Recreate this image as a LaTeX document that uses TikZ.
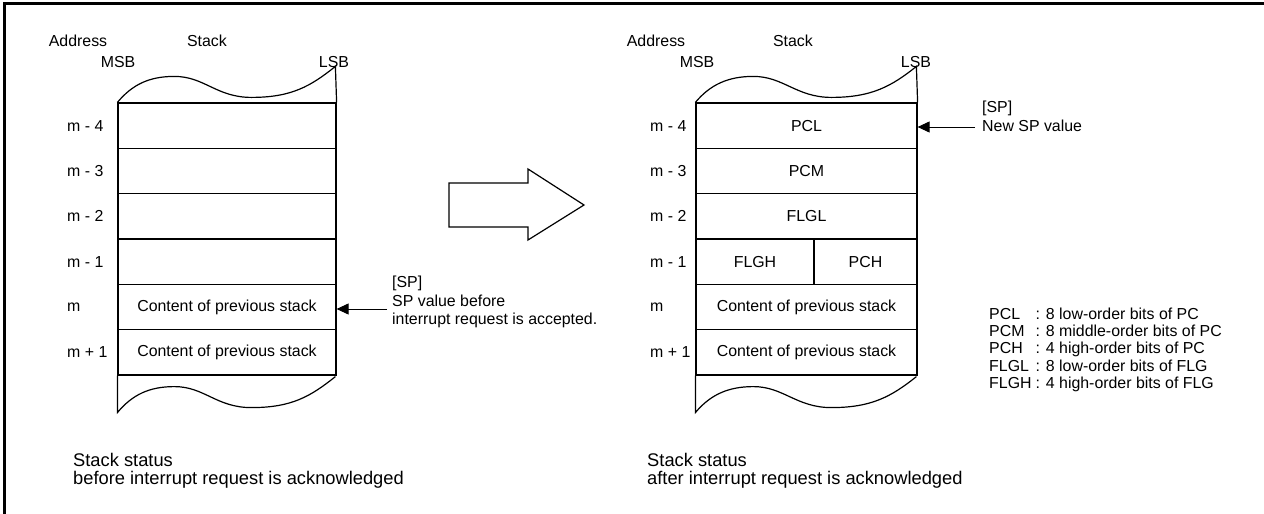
\documentclass[tikz,border=0pt]{standalone}
\usepackage{fontspec}
\setmainfont{Liberation Sans}
\usepackage{tikz}
\usetikzlibrary{arrows.meta,calc,positioning}
\newcommand{\stackfont}{\fontsize{15.9pt}{18.5pt}\selectfont}

\begin{document}
\begin{tikzpicture}[x=1pt,y=-1pt,>=Latex,
    every node/.style={font=\stackfont},
    cell/.style={draw,line width=1.2pt,minimum height=45.33pt,inner sep=0pt},
    addr/.style={anchor=west,inner sep=0pt},
    note/.style={anchor=west,align=left,inner sep=0pt},
    caption/.style={anchor=north west,align=left,inner sep=0pt,
      font=\fontsize{18.3pt}{18pt}\selectfont},
    sparrow/.style={line width=1pt,-{Triangle[length=12pt,width=11pt]}}]
    \useasboundingbox (0,0) rectangle (1264,514);
    \draw[line width=3pt] (4.5,514) -- (4.5,3) -- (1264,3);
    % before
    \node (ladr) at (78,41) {Address};
    \node (lstk) at (207,41) {Stack};
    \node (lmsb) at (118,62) {MSB};
    \node (llsb) at (334,62) {LSB};
    \foreach \i/\y in {4/125.67,3/171,2/216.33,1/261.67}
      {\node[cell,minimum width=218pt] (l\i) at (227,\y) {};}
    \node[cell,minimum width=218pt] (l0) at (227,307) {Content of previous stack};
    \node[cell,minimum width=218pt] (lp) at (227,352.33) {Content of previous stack};
    \foreach \i/\y/\t in {4/125.67/m - 4,3/171/m - 3,2/216.33/m - 2,1/261.67/m - 1,0/307/m,p/352.33/m + 1}
      {\node[addr] (la\i) at (67,\y) {\t};}
    \draw[line width=1.2pt] (l4.north west) .. controls +(15,-18) and +(-25,0) .. ++(57,-26)
      .. controls +(30,0) and +(-35,0) .. ++(77,21)
      .. controls +(40,0) and +(-25,20) .. ++(84,-31) -- (l4.north east);
    \draw[line width=1.2pt] (lp.south west) -- ++(0,37) .. controls +(15,-18) and +(-25,0) .. ++(57,-26)
      .. controls +(30,0) and +(-35,0) .. ++(77,21)
      .. controls +(40,0) and +(-25,20) .. ++(84,-31);
    \node[note] (spl) at (392,302) {[SP]\\SP value before\\interrupt request is accepted.};
    \coordinate (spla) at (387,309);
    \draw[sparrow] (spla) -- (spla -| l0.east);
    \node[caption] (lcap) at (73,453)
      {Stack status\\before interrupt request is acknowledged};
    % transition
    \draw[line width=1.2pt] (449,183) -- (528,183) -- (528,169) -- (584,205)
      -- (528,240) -- (528,227) -- (449,227) -- cycle;
    % after
    \node (radr) at (656,41) {Address};
    \node (rstk) at (793,41) {Stack};
    \node (rmsb) at (697,62) {MSB};
    \node (rlsb) at (916,62) {LSB};
    \node[cell,minimum width=221pt] (r4) at (806.5,125.67) {PCL};
    \node[cell,minimum width=221pt] (r3) at (806.5,171) {PCM};
    \node[cell,minimum width=221pt] (r2) at (806.5,216.33) {FLGL};
    \node[cell,minimum width=118pt] (rh) at (755,261.67) {FLGH};
    \node[cell,minimum width=103pt] (rc) at (865.5,261.67) {PCH};
    \node[cell,minimum width=221pt] (r0) at (806.5,307) {Content of previous stack};
    \node[cell,minimum width=221pt] (rp) at (806.5,352.33) {Content of previous stack};
    \foreach \i/\y/\t in {4/125.67/m - 4,3/171/m - 3,2/216.33/m - 2,1/261.67/m - 1,0/307/m,p/352.33/m + 1}
      {\node[addr] (ra\i) at (650,\y) {\t};}
    \draw[line width=1.2pt] (r4.north west) .. controls +(15,-18) and +(-25,0) .. ++(58,-26)
      .. controls +(30,0) and +(-35,0) .. ++(78,21)
      .. controls +(40,0) and +(-25,20) .. ++(85,-31) -- (r4.north east);
    \draw[line width=1.2pt] (rp.south west) -- ++(0,37) .. controls +(15,-18) and +(-25,0) .. ++(58,-26)
      .. controls +(30,0) and +(-35,0) .. ++(78,21)
      .. controls +(40,0) and +(-25,20) .. ++(85,-31);
    \node[note] (spr) at (982,116.5) {[SP]\\New SP value};
    \coordinate (spra) at (975,127);
    \draw[sparrow] (spra) -- (spra -| r4.east);
    \node[anchor=west,inner sep=0pt] (legend) at (989,350.5)
      [font=\fontsize{15.9pt}{17.3pt}\selectfont]
      {\begin{tabular}{@{}l@{\hspace{4pt}}l@{}}
        PCL & : 8 low-order bits of PC\\
        PCM & : 8 middle-order bits of PC\\
        PCH & : 4 high-order bits of PC\\
        FLGL & : 8 low-order bits of FLG\\
        FLGH & : 4 high-order bits of FLG
      \end{tabular}};
    \node[caption] (rcap) at (647,453)
      {Stack status\\after interrupt request is acknowledged};
  \end{tikzpicture}
\end{document}
